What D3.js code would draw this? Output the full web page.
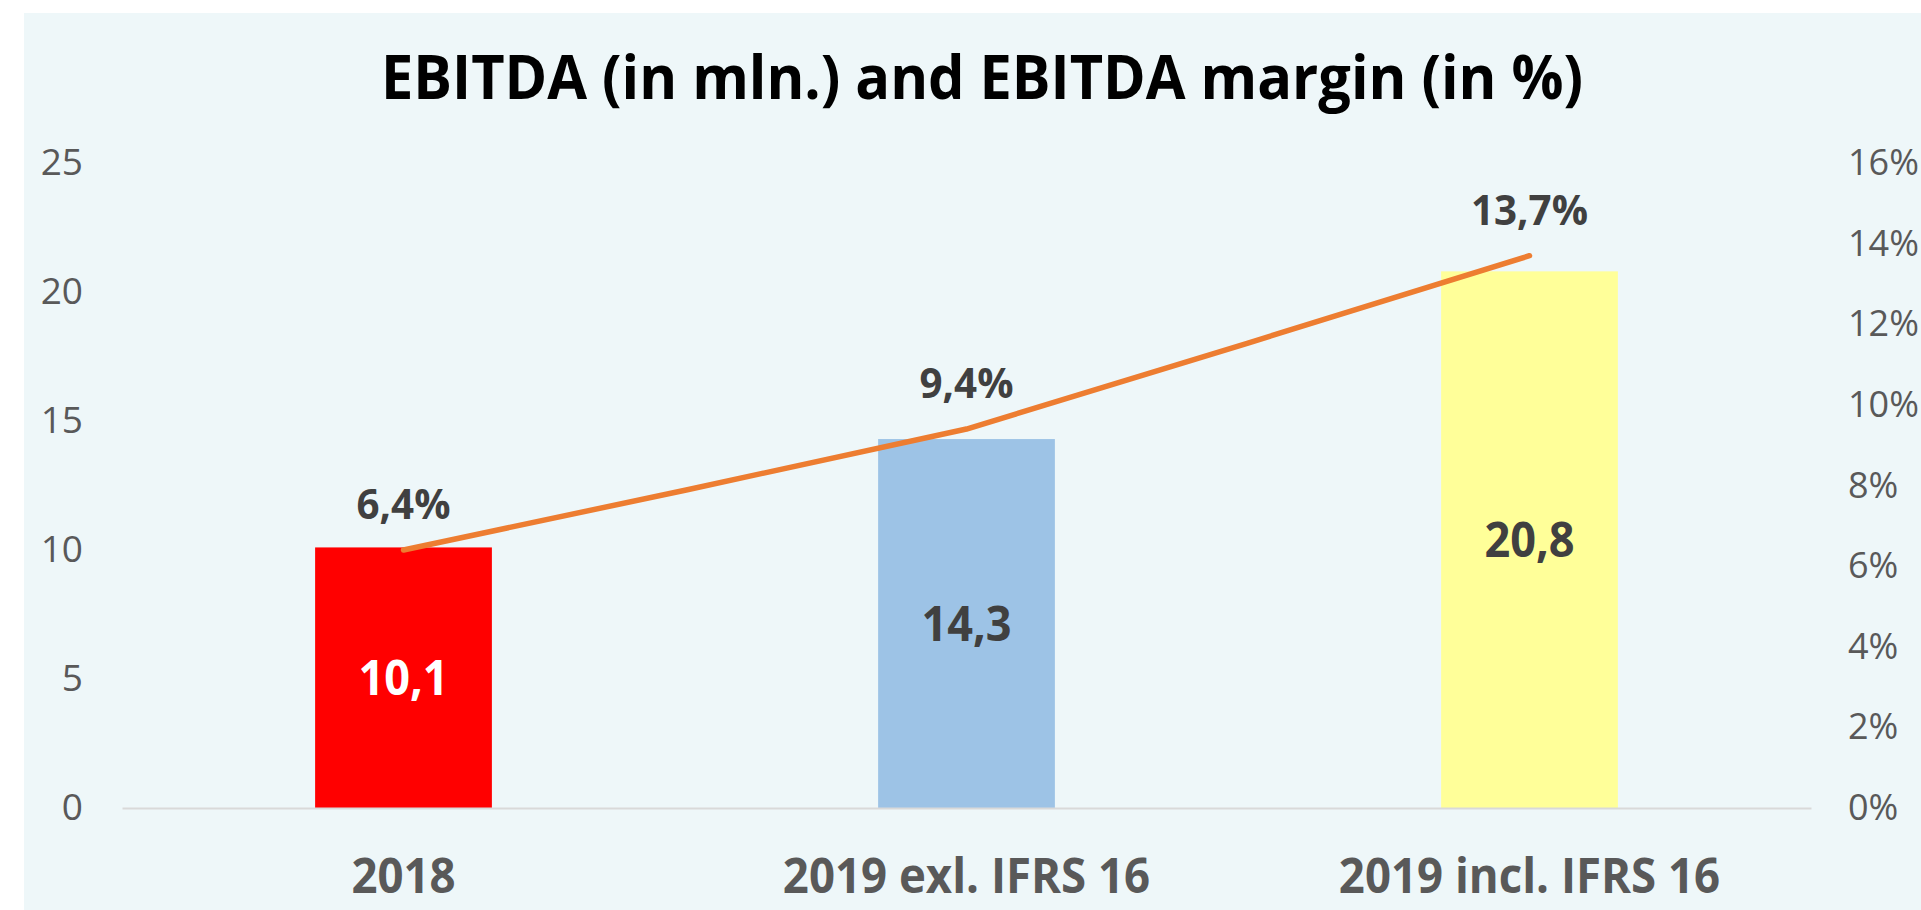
<!DOCTYPE html>
<html>
<head>
<meta charset="utf-8">
<script src="https://cdn.jsdelivr.net/npm/d3@7"></script>
<style>
    body { margin: 0; background: #ffffff; }
    svg { display: block; }
</style>
</head>
<body>
<div id="chart"></div>
<script>
// Chart data
const categories = ['2018', '2019 exl. IFRS 16', '2019 incl. IFRS 16'];
const ebitda = [10.1, 14.3, 20.8];
const margin = [0.064, 0.094, 0.137];
const barColors = ['#ff0000', '#9dc3e6', '#ffff99'];
const barLabelColors = ['#ffffff', '#404040', '#404040'];
const leftTicks = [0, 5, 10, 15, 20, 25];
const rightTicks = [0, 0.02, 0.04, 0.06, 0.08, 0.10, 0.12, 0.14, 0.16];
const titleText = 'EBITDA (in mln.) and EBITDA margin (in %)';

const width = 1921;
const height = 910;
const plot = { left: 122, right: 1811, top: 163, bottom: 808 };
const fontBold = "'Open Sans', 'DejaVu Sans', sans-serif";

const svg = d3.select('#chart')
    .append('svg')
    .attr('width', width)
    .attr('height', height);

// Chart area background
svg.append('rect')
    .attr('x', 24)
    .attr('y', 13)
    .attr('width', width - 24)
    .attr('height', height - 13)
    .attr('fill', '#eef7f9');

// Squeeze the wide fallback font a bit so it reads like the original
function condense(sel, k) {
    sel.each(function() {
        const w = this.getComputedTextLength();
        d3.select(this)
            .attr('textLength', w * k)
            .attr('lengthAdjust', 'spacingAndGlyphs');
    });
}

// Scales
const x = d3.scaleBand()
    .domain(categories)
    .range([plot.left, plot.right])
    .padding(0);

const yLeft = d3.scaleLinear()
    .domain([0, 25])
    .range([plot.bottom, plot.top]);

const yRight = d3.scaleLinear()
    .domain([0, 0.16])
    .range([plot.bottom, plot.top]);

const barWidth = x.bandwidth() * 0.314;
const cx = d => x(d) + x.bandwidth() / 2;

// Title
svg.append('text')
    .attr('x', 982)
    .attr('y', 99)
    .attr('text-anchor', 'middle')
    .attr('font-family', fontBold)
    .attr('font-weight', 700)
    .attr('font-size', 60)
    .attr('fill', '#000000')
    .attr('textLength', 1202)
    .attr('lengthAdjust', 'spacingAndGlyphs')
    .text(titleText);

// Left axis
const leftAxis = svg.append('g')
    .attr('transform', `translate(${plot.left - 27},0)`)
    .call(d3.axisLeft(yLeft).tickValues(leftTicks).tickSize(0).tickPadding(12));
leftAxis.select('.domain').remove();
leftAxis.selectAll('text')
    .attr('font-family', "'Open Sans', sans-serif")
    .attr('font-size', 37)
    .attr('fill', '#595959');

// Right axis
const rightAxis = svg.append('g')
    .attr('transform', `translate(${plot.right + 25},0)`)
    .call(d3.axisRight(yRight).tickValues(rightTicks).tickSize(0).tickPadding(12)
        .tickFormat(d3.format('.0%')));
rightAxis.select('.domain').remove();
rightAxis.selectAll('text')
    .attr('font-family', "'Open Sans', sans-serif")
    .attr('font-size', 36)
    .attr('fill', '#595959');

// Bars
svg.selectAll('rect.bar')
    .data(ebitda)
    .enter()
    .append('rect')
    .attr('class', 'bar')
    .attr('x', (d, i) => cx(categories[i]) - barWidth / 2)
    .attr('y', d => yLeft(d))
    .attr('width', barWidth)
    .attr('height', d => yLeft(0) - yLeft(d))
    .attr('fill', (d, i) => barColors[i]);

// Category axis (baseline)
const bottomAxis = svg.append('g')
    .attr('transform', `translate(0,${plot.bottom})`)
    .call(d3.axisBottom(x).tickSize(0).tickPadding(50).tickSizeOuter(0));
bottomAxis.select('.domain')
    .attr('stroke', '#d9d9d9')
    .attr('stroke-width', 2);
bottomAxis.selectAll('text')
    .attr('font-family', fontBold)
    .attr('font-weight', 700)
    .attr('font-size', 49)
    .attr('fill', '#595959')
    .call(condense, 0.93);

// Bar value labels
svg.selectAll('text.bar-label')
    .data(ebitda)
    .enter()
    .append('text')
    .attr('class', 'bar-label')
    .attr('x', (d, i) => cx(categories[i]))
    .attr('y', d => (yLeft(d) + yLeft(0)) / 2 + 17.5)
    .attr('text-anchor', 'middle')
    .attr('font-family', fontBold)
    .attr('font-weight', 700)
    .attr('font-size', 49)
    .attr('fill', (d, i) => barLabelColors[i])
    .text(d => d3.format('.1f')(d).replace('.', ','))
    .call(condense, 0.92);

// Margin line, only slightly rounded at the joint
const line = d3.line()
    .x((d, i) => cx(categories[i]))
    .y(d => yRight(d))
    .curve(d3.curveCardinal.tension(0.8));

svg.append('path')
    .datum(margin)
    .attr('d', line)
    .attr('fill', 'none')
    .attr('stroke', '#ed7d31')
    .attr('stroke-width', 5.5)
    .attr('stroke-linecap', 'round')
    .attr('stroke-linejoin', 'round');

// Margin labels
svg.selectAll('text.line-label')
    .data(margin)
    .enter()
    .append('text')
    .attr('class', 'line-label')
    .attr('x', (d, i) => cx(categories[i]))
    .attr('y', d => yRight(d) - 46 + 15)
    .attr('text-anchor', 'middle')
    .attr('font-family', fontBold)
    .attr('font-weight', 700)
    .attr('font-size', 42)
    .attr('fill', '#404040')
    .text(d => d3.format('.1f')(d * 100).replace('.', ',') + '%')
    .call(condense, 0.96);
</script>
</body>
</html>
